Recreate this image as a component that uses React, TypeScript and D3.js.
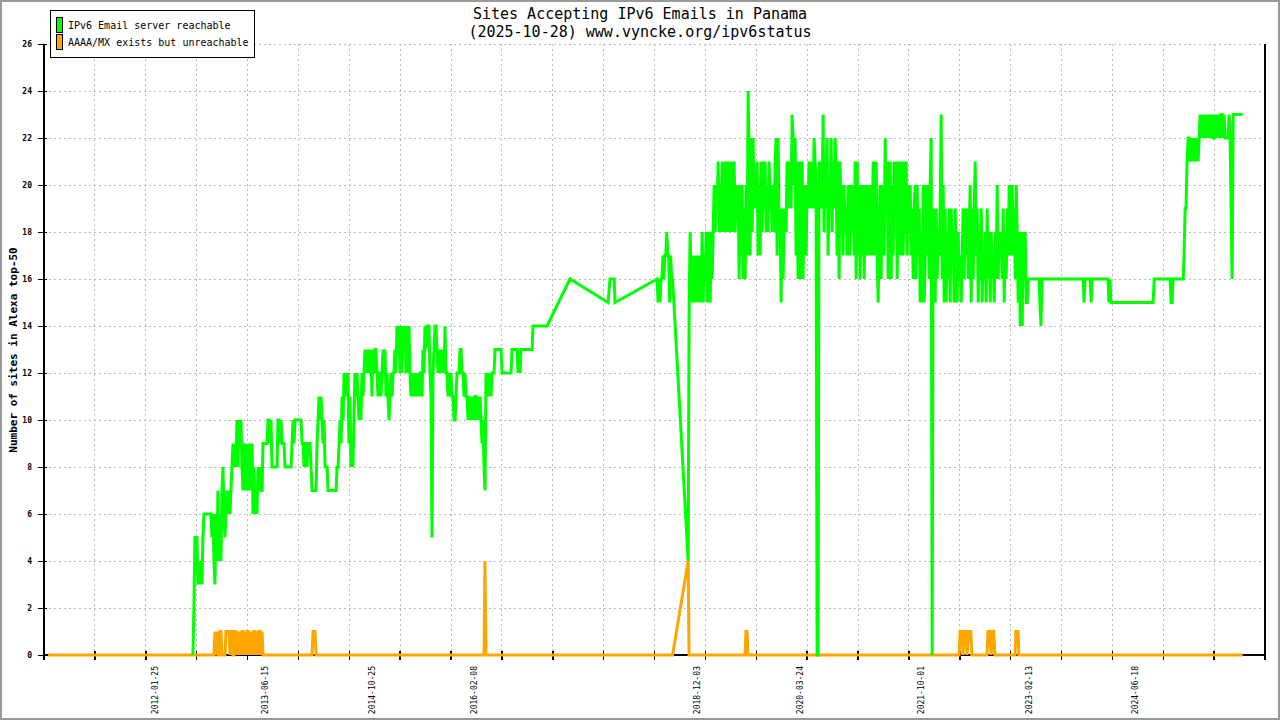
import * as d3 from "d3";

// green: "IPv6 Email server reachable" — dense stretches read pixel by pixel
const reach2012 = [
  0, 2, 5, 5, 5, 3, 4, 3, 4, 3, 5, 6, 6, 6, 6, 6, 6, 6, 6, 5,
  6, 4, 3, 6, 4, 7, 4, 6, 4, 7, 8, 6, 5, 6, 7, 6, 7, 6, 7, 8,
  9, 8, 9, 8, 10, 8, 10, 9, 10, 8, 7, 9, 7, 8, 9, 7, 9, 8, 7, 9,
  6, 8, 6, 7, 6, 8, 7, 8, 7, 7, 9, 9, 9, 9, 9, 10, 10, 9, 10, 8,
  8, 8, 8, 8, 8, 10, 10, 9, 10, 9, 9, 9, 8, 8, 8, 8, 8, 8, 8, 9,
  10, 9, 10, 10, 10, 10, 10, 10, 10, 9, 9, 8, 9, 9, 8, 9, 9, 9, 8, 7,
  7, 7, 7, 7, 9, 10, 11, 10, 11, 10, 9, 10, 8, 8, 8, 7, 7, 7, 7, 7,
  7, 7, 7, 7, 8, 8, 9, 10, 9, 11, 10, 12, 11,
];
const reach2014 = [
  12, 11, 12, 9, 11, 8, 9, 8, 10, 12, 11, 12, 11, 10, 11, 10, 12, 11, 12, 13,
  12, 13, 12, 13, 12, 13, 11, 13, 12, 13, 13, 12, 11, 12, 12, 11, 12, 13, 12, 13,
  11, 12, 11, 10, 11, 12, 11, 12, 12, 13, 12, 14, 13, 14, 12, 14, 12, 14, 13, 14,
  12, 14, 12, 14, 12, 11, 12, 11, 12, 11, 12, 11, 12, 11, 12, 12, 11, 13, 12, 14,
  13, 14, 14, 14, 12, 11, 5, 12, 13, 14, 14, 13, 12, 13, 12, 13, 12, 13, 12, 14,
  12, 12, 11, 12, 11, 12, 11, 11, 10, 10, 11, 12, 12, 12, 13, 13, 12, 12, 11, 12,
  11, 11, 10, 11, 10, 11, 10, 11, 10, 11, 11, 10, 11, 10, 11, 10, 9, 10, 8, 7,
  12, 11, 12, 11, 12, 11, 12, 12, 12, 13, 13, 13, 13, 13, 13, 13, 12, 12, 12, 12,
  12, 12, 12, 12, 12, 12, 13, 13, 13, 13, 13, 13, 12, 13, 12, 13,
];
const reach2016: [string, number][] = [
  ["2016-09-16", 13], ["2016-11-01", 13], ["2016-11-05", 14], ["2017-01-09", 14],
  ["2017-04-25", 16], ["2017-10-18", 15], ["2017-10-27", 16], ["2017-11-15", 16],
  ["2017-11-19", 15], ["2018-06-02", 16],
];
const reach2018 = [15, 16, 15, 16, 16, 17, 16, 17, 17, 18, 17, 17, 15, 17, 16, 16];
const reach2019 = [
  4, 15, 18, 15, 17, 15, 16, 17, 15, 17, 16, 15, 17, 15, 18, 15, 17, 16, 18, 15,
  18, 16, 15, 18, 16, 18, 20, 18, 20, 19, 21, 18, 20, 18, 21, 19, 18, 21, 20, 18,
  21, 19, 18, 21, 20, 18, 21, 18, 20, 19, 20, 16, 20, 17, 20, 16, 19, 16, 20, 17,
  24, 21, 17, 22, 18, 22, 19, 20, 19, 21, 17, 20, 17, 21, 18, 21, 19, 21, 18, 20,
  18, 21, 19, 20, 18, 20, 18, 21, 22, 17, 22, 18, 19, 15, 19, 16, 18, 19, 18, 21,
  19, 20, 21, 19, 23, 22, 20, 22, 17, 21, 16, 21, 18, 16, 21, 16, 20, 18, 17, 20,
  19, 21, 19, 20, 21, 19, 22, 21, 20, 0, 0, 21, 19, 21, 19, 23, 18, 21, 19, 22,
  17, 20, 19, 22, 18, 21, 19, 22, 21, 17, 21, 16, 21, 18, 20, 17, 20, 18, 19, 17,
  20, 18, 17,
];
const reach2021 = [
  20, 18, 20, 17, 21, 16, 21, 17, 20, 16, 20, 17, 20, 16, 20, 17, 19, 20, 17, 20,
  18, 17, 21, 17, 20, 21, 17, 15, 18, 20, 16, 20, 19, 17, 22, 19, 21, 16, 20, 21,
  16, 20, 17, 21, 19, 21, 16, 19, 21, 17, 21, 20, 17, 21, 18, 21, 17, 20, 18, 20,
  17, 19, 16, 19, 20, 16, 20, 17, 19, 15, 18, 15, 20, 15, 17, 20, 17, 20, 16, 20,
  22, 0, 19, 17, 15, 19, 16, 18, 17, 19, 23, 16, 20, 15, 19, 15, 18, 16, 19, 15,
  19, 17, 18, 15, 19, 17, 15, 18, 16, 17, 15, 17, 19, 16, 19, 17, 19, 16, 18, 20,
  15, 19, 16, 19, 21, 17, 19, 15, 18, 16, 19, 15, 17, 16, 18, 15, 19, 16, 18, 15,
  18, 16, 17, 15, 18, 16, 20, 16, 18, 17, 18, 16, 19, 15, 18, 16, 19, 17, 20, 17,
  19, 20, 17, 19, 16, 20, 18, 15, 18, 14, 18, 14, 18, 16, 18, 15, 15, 16,
];
const reach2023: [string, number][] = [
  ["2023-04-01", 16], ["2023-04-05", 15], ["2023-04-10", 14], ["2023-04-15", 16],
  ["2023-10-22", 16], ["2023-10-26", 15], ["2023-10-31", 16], ["2023-11-23", 16],
  ["2023-11-28", 15], ["2023-12-02", 16], ["2024-02-14", 16], ["2024-02-18", 15],
  ["2024-02-23", 16], ["2024-02-27", 15], ["2024-09-09", 15], ["2024-09-14", 16],
  ["2024-11-27", 16], ["2024-12-01", 15], ["2024-12-06", 15], ["2024-12-10", 16],
  ["2025-01-26", 16], ["2025-01-30", 17], ["2025-02-04", 19], ["2025-02-08", 19],
  ["2025-02-13", 21],
];
const reach2025 = [
  22, 22, 21, 22, 21, 22, 21, 22, 21, 22, 21, 22, 23, 22, 23, 22, 23, 22, 23, 22,
  23, 22, 23, 22, 23, 22, 22, 23, 22, 23, 22, 23, 22, 23, 23, 22, 23, 22, 22, 22,
  22, 23, 22, 19, 16,
];
const reachEnd: [string, number][] = [["2025-09-14", 23], ["2025-10-28", 23]];

// orange: "AAAA/MX exists but unreachable"
const unreach2012 = [
  0, 0, 0, 1, 0, 1, 0, 0, 1, 1, 0, 0, 0, 0, 1, 1, 1, 1, 0, 1,
  1, 0, 0, 1, 1, 0, 1, 0, 1, 0, 1, 1, 0, 1, 0, 1, 1, 0, 1, 0,
  1, 0, 1, 1, 0, 1, 0, 1, 1, 0, 1, 0,
];
const unreachStart: [string, number][] = [["2010-09-18", 0]];
const unreachLater: [string, number][] = [
  ["2014-01-19", 0], ["2014-01-24", 1], ["2014-02-02", 1], ["2014-02-07", 0],
  ["2016-03-24", 0], ["2016-03-28", 4], ["2016-04-02", 0],
  ["2018-08-12", 0], ["2018-10-23", 4], ["2018-10-27", 0],
  ["2019-07-13", 0], ["2019-07-17", 1], ["2019-07-22", 1], ["2019-07-26", 0],
  ["2022-03-28", 0], ["2022-04-01", 1], ["2022-04-10", 1], ["2022-04-15", 0],
  ["2022-04-19", 1], ["2022-04-28", 1], ["2022-05-03", 0], ["2022-05-12", 1],
  ["2022-05-21", 1], ["2022-05-26", 0], ["2022-08-04", 0], ["2022-08-08", 1],
  ["2022-08-17", 1], ["2022-08-22", 0], ["2022-08-31", 1], ["2022-09-04", 1],
  ["2022-09-09", 0], ["2022-12-11", 0], ["2022-12-15", 1], ["2022-12-25", 1],
  ["2022-12-29", 0], ["2025-10-28", 0],
];

const xLabels = [
  "2012-01-25", "2013-06-15", "2014-10-25", "2016-02-08", "2018-12-03",
  "2020-03-24", "2021-10-01", "2023-02-13", "2024-06-18",
];
const yTicks = d3.range(0, 27, 2);

const width = 1280;
const height = 720;
const margin = { top: 44, right: 15, bottom: 65, left: 44 };
const mono = "'DejaVu Sans Mono', monospace";

type Pt = { date: Date; value: number };
const parse = d3.utcParse("%Y-%m-%d");

// daily samples spread evenly between the first and last day of a stretch
function spread(from: string, to: string, values: number[]): Pt[] {
  const t0 = parse(from)!.getTime();
  const t1 = parse(to)!.getTime();
  return values.map((v, i) => ({
    date: new Date(t0 + (i * (t1 - t0)) / (values.length - 1)),
    value: v,
  }));
}
const pts = (list: [string, number][]): Pt[] =>
  list.map(([d, v]) => ({ date: parse(d)!, value: v }));

const reachable: Pt[] = [
  ...spread("2012-07-18", "2014-06-21", reach2012),
  ...spread("2014-06-25", "2016-09-11", reach2014),
  ...pts(reach2016),
  ...spread("2018-06-06", "2018-08-12", reach2018),
  ...spread("2018-10-23", "2020-11-09", reach2019),
  ...spread("2020-11-14", "2023-02-10", reach2021),
  ...pts(reach2023),
  ...spread("2025-02-18", "2025-09-09", reach2025),
  ...pts(reachEnd),
];
const unreachable: Pt[] = [
  ...pts(unreachStart),
  ...spread("2012-10-14", "2013-06-07", unreach2012),
  ...pts(unreachLater),
];

export default function App() {
  const domain = [parse("2010-08-30")!, parse("2026-02-08")!];
  const x = d3.scaleUtc().domain(domain).range([margin.left, width - margin.right]);
  const y = d3.scaleLinear().domain([0, 26]).range([height - margin.bottom, margin.top]);

  const t0 = domain[0].getTime();
  const t1 = domain[1].getTime();
  const gridDates = d3.range(25).map((i) => new Date(t0 + (i * (t1 - t0)) / 24));

  const line = d3
    .line<Pt>()
    .x((d) => x(d.date))
    .y((d) => y(d.value));

  const x0 = margin.left;
  const x1 = width - margin.right;
  const y0 = height - margin.bottom;

  return (
    <svg
      width={width}
      height={height}
      style={{ position: "absolute", left: 0, top: 0, background: "#fff" }}
      fontFamily={mono}
    >
      <rect x={1} y={1} width={width - 2} height={height - 2} fill="#fff" stroke="#999" strokeWidth={2} />

      {/* grid */}
      <g stroke="#bbb" strokeWidth={1} strokeDasharray="2,3" shapeRendering="crispEdges">
        {yTicks.slice(1).map((t) => (
          <line key={"h" + t} x1={x0} x2={x1} y1={y(t)} y2={y(t)} />
        ))}
        {gridDates.slice(1, -1).map((d, i) => (
          <line key={"v" + i} x1={x(d)} x2={x(d)} y1={margin.top} y2={y0} />
        ))}
      </g>

      {/* axes */}
      <g stroke="#000" shapeRendering="crispEdges">
        <line x1={x0} x2={x0} y1={margin.top} y2={y0 + 1} strokeWidth={2} />
        <line x1={x1} x2={x1} y1={margin.top} y2={y0 + 1} strokeWidth={2} />
        <line x1={x0} x2={x1} y1={y0} y2={y0} strokeWidth={2} />
        {yTicks.map((t) => (
          <line key={"yt" + t} x1={x0 - 6} x2={x0 + 3} y1={y(t)} y2={y(t)} strokeWidth={1} />
        ))}
        {gridDates.map((d, i) => (
          <line key={"xt" + i} x1={x(d)} x2={x(d)} y1={y0 - 4} y2={y0 + 5} strokeWidth={1.5} />
        ))}
      </g>
      <g fontSize={8} fontWeight="bold" fill="#000">
        {yTicks.map((t) => (
          <text key={"yl" + t} x={x0 - 12} y={y(t)} dy="0.35em" textAnchor="end">
            {t}
          </text>
        ))}
        {xLabels.map((s) => {
          const px = x(parse(s)!);
          return (
            <text
              key={s}
              transform={`translate(${px + 3},${y0 + 11}) rotate(-90)`}
              textAnchor="end"
              fontWeight="normal"
            >
              {s}
            </text>
          );
        })}
      </g>

      {/* series */}
      <path d={line(unreachable)!} fill="none" stroke="#ffa500" strokeWidth={3} />
      <path d={line(reachable)!} fill="none" stroke="#00ff00" strokeWidth={3} />

      {/* titles */}
      <g fontSize={15} textAnchor="middle" fill="#000">
        <text x={640} y={19}>Sites Accepting IPv6 Emails in Panama</text>
        <text x={640} y={37}>(2025-10-28) www.vyncke.org/ipv6status</text>
      </g>
      <text
        transform="translate(17,350) rotate(-90)"
        textAnchor="middle"
        fontSize={11}
        fontWeight="bold"
      >
        Number of sites in Alexa top-50
      </text>

      {/* legend */}
      <rect x={50.5} y={10.5} width={204} height={47} fill="#fff" stroke="#000" />
      <rect x={56.5} y={17.5} width={6} height={15} fill="#00ff00" stroke="#000" />
      <rect x={56.5} y={34.5} width={6} height={15} fill="#ffa500" stroke="#000" />
      <g fontSize={10} fill="#000">
        <text x={68} y={29}>IPv6 Email server reachable</text>
        <text x={68} y={46}>AAAA/MX exists but unreachable</text>
      </g>
    </svg>
  );
}
